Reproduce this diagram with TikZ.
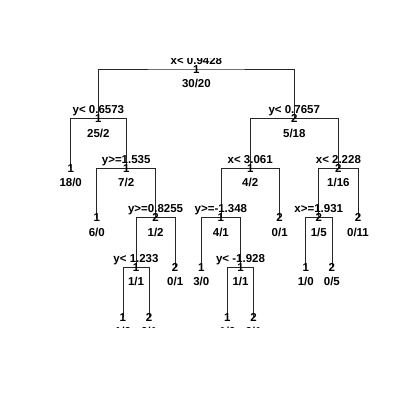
\documentclass[tikz,border=0pt]{standalone}
\usepackage{fontspec}
\setmainfont{Liberation Sans}
\begin{document}
\begin{tikzpicture}[x=1pt,y=-1pt,
  edge/.style={draw=black!85,line width=0.8pt},
  lbl/.style={font=\bfseries\fontsize{11.5}{12}\selectfont,inner sep=0pt,anchor=base},
]
\useasboundingbox (0,0) rectangle (400,400);
% node positions
\coordinate (A) at (196.4,69);
\coordinate (B) at (98.4,118.6);
\coordinate (C) at (294.3,118.6);
\coordinate (a1) at (70.7,168.2);
\coordinate (D) at (126.2,168.2);
\coordinate (G) at (250.2,168.2);
\coordinate (H) at (338.4,168.2);
\coordinate (a2) at (96.82,217.8);
\coordinate (E) at (155.6,217.8);
\coordinate (I) at (220.9,217.8);
\coordinate (a9) at (279.66,217.8);
\coordinate (K) at (318.8,217.8);
\coordinate (a12) at (358.02,217.8);
\coordinate (F) at (136.0,267.4);
\coordinate (a5) at (175.18,267.4);
\coordinate (a6) at (201.3,267.4);
\coordinate (J) at (240.5,267.4);
\coordinate (a10) at (305.78,267.4);
\coordinate (a11) at (331.9,267.4);
\coordinate (a3) at (122.94,317);
\coordinate (a4) at (149.06,317);
\coordinate (a7) at (227.42,317);
\coordinate (a8) at (253.54,317);
\begin{scope}
\clip (0,58) rectangle (400,327.5);
% connectors
\draw[edge] (B) |- (A) -| (C);
\draw[edge] (a1) |- (B) -| (D);
\draw[edge] (a2) |- (D) -| (E);
\draw[edge] (F) |- (E) -| (a5);
\draw[edge] (a3) |- (F) -| (a4);
\draw[edge] (G) |- (C) -| (H);
\draw[edge] (I) |- (G) -| (a9);
\draw[edge] (a6) |- (I) -| (J);
\draw[edge] (a7) |- (J) -| (a8);
\draw[edge] (K) |- (H) -| (a12);
\draw[edge] (a10) |- (K) -| (a11);
% labels: split text, class, counts
\node[lbl] (tA) at ([yshift=5pt]A) {x< 0.9428};
\node[lbl] (cA) at ([yshift=-4pt]A) {1};
\node[lbl] (nA) at ([yshift=-18.5pt]A) {30/20};
\node[lbl] (tB) at ([yshift=5pt]B) {y< 0.6573};
\node[lbl] (cB) at ([yshift=-4pt]B) {1};
\node[lbl] (nB) at ([yshift=-18.5pt]B) {25/2};
\node[lbl] (tC) at ([yshift=5pt]C) {y< 0.7657};
\node[lbl] (cC) at ([yshift=-4pt]C) {2};
\node[lbl] (nC) at ([yshift=-18.5pt]C) {5/18};
\node[lbl] (ca1) at ([yshift=-4pt]a1) {1};
\node[lbl] (na1) at ([yshift=-18.5pt]a1) {18/0};
\node[lbl] (tD) at ([yshift=5pt]D) {y>=1.535};
\node[lbl] (cD) at ([yshift=-4pt]D) {1};
\node[lbl] (nD) at ([yshift=-18.5pt]D) {7/2};
\node[lbl] (tG) at ([yshift=5pt]G) {x< 3.061};
\node[lbl] (cG) at ([yshift=-4pt]G) {1};
\node[lbl] (nG) at ([yshift=-18.5pt]G) {4/2};
\node[lbl] (tH) at ([yshift=5pt]H) {x< 2.228};
\node[lbl] (cH) at ([yshift=-4pt]H) {2};
\node[lbl] (nH) at ([yshift=-18.5pt]H) {1/16};
\node[lbl] (ca2) at ([yshift=-4pt]a2) {1};
\node[lbl] (na2) at ([yshift=-18.5pt]a2) {6/0};
\node[lbl] (tE) at ([yshift=5pt]E) {y>=0.8255};
\node[lbl] (cE) at ([yshift=-4pt]E) {2};
\node[lbl] (nE) at ([yshift=-18.5pt]E) {1/2};
\node[lbl] (tI) at ([yshift=5pt]I) {y>=-1.348};
\node[lbl] (cI) at ([yshift=-4pt]I) {1};
\node[lbl] (nI) at ([yshift=-18.5pt]I) {4/1};
\node[lbl] (ca9) at ([yshift=-4pt]a9) {2};
\node[lbl] (na9) at ([yshift=-18.5pt]a9) {0/1};
\node[lbl] (tK) at ([yshift=5pt]K) {x>=1.931};
\node[lbl] (cK) at ([yshift=-4pt]K) {2};
\node[lbl] (nK) at ([yshift=-18.5pt]K) {1/5};
\node[lbl] (ca12) at ([yshift=-4pt]a12) {2};
\node[lbl] (na12) at ([yshift=-18.5pt]a12) {0/11};
\node[lbl] (tF) at ([yshift=5pt]F) {y< 1.233};
\node[lbl] (cF) at ([yshift=-4pt]F) {1};
\node[lbl] (nF) at ([yshift=-18.5pt]F) {1/1};
\node[lbl] (ca5) at ([yshift=-4pt]a5) {2};
\node[lbl] (na5) at ([yshift=-18.5pt]a5) {0/1};
\node[lbl] (ca6) at ([yshift=-4pt]a6) {1};
\node[lbl] (na6) at ([yshift=-18.5pt]a6) {3/0};
\node[lbl] (tJ) at ([yshift=5pt]J) {y< -1.928};
\node[lbl] (cJ) at ([yshift=-4pt]J) {1};
\node[lbl] (nJ) at ([yshift=-18.5pt]J) {1/1};
\node[lbl] (ca10) at ([yshift=-4pt]a10) {1};
\node[lbl] (na10) at ([yshift=-18.5pt]a10) {1/0};
\node[lbl] (ca11) at ([yshift=-4pt]a11) {2};
\node[lbl] (na11) at ([yshift=-18.5pt]a11) {0/5};
\node[lbl] (ca3) at ([yshift=-4pt]a3) {1};
\node[lbl] (na3) at ([yshift=-18.5pt]a3) {1/0};
\node[lbl] (ca4) at ([yshift=-4pt]a4) {2};
\node[lbl] (na4) at ([yshift=-18.5pt]a4) {0/1};
\node[lbl] (ca7) at ([yshift=-4pt]a7) {1};
\node[lbl] (na7) at ([yshift=-18.5pt]a7) {1/0};
\node[lbl] (ca8) at ([yshift=-4pt]a8) {2};
\node[lbl] (na8) at ([yshift=-18.5pt]a8) {0/1};
\end{scope}
\end{tikzpicture}
\end{document}
